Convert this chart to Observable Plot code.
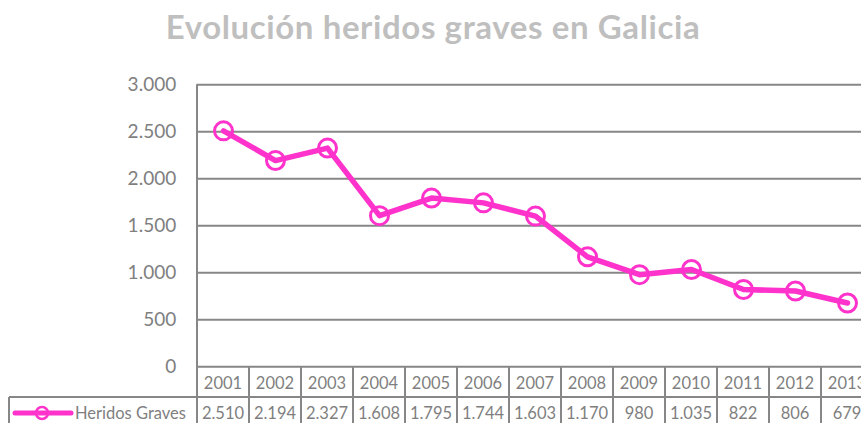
<!DOCTYPE html>
<html><head><meta charset="utf-8">
<script src="https://cdn.jsdelivr.net/npm/d3@7"></script>
<script src="https://cdn.jsdelivr.net/npm/@observablehq/plot@0.6"></script>
<style>
html,body{margin:0;padding:0;background:#fff;overflow:hidden;width:861px;height:423px}
#wrap{position:relative;width:861px;height:423px;overflow:hidden}
#title{position:absolute;left:0;top:0;width:866px;height:60px;text-align:center;font-family:Lato,"Open Sans",sans-serif;font-weight:bold;font-size:33px;line-height:33px;letter-spacing:0.6px;color:#BFBFBF;padding-top:10px;box-sizing:border-box;white-space:nowrap}
#chart{position:absolute;left:0;top:60px;width:873px}
#chart svg{max-width:none !important}
</style></head><body>
<div id="wrap">
<div id="title">Evolución heridos graves en Galicia</div>
<div id="chart"></div>
</div>
<script>
const years = ["2001","2002","2003","2004","2005","2006","2007","2008","2009","2010","2011","2012","2013"];
const heridos = [2510,2194,2327,1608,1795,1744,1603,1170,980,1035,822,806,679];
const yTicks = [0,500,1000,1500,2000,2500,3000];
const seriesName = "Heridos Graves";

const MAG = "#FF33CC";
const GRID = "#878787";
const TXT = "#7F7F7F";
const es = d3.formatLocale({decimal:",", thousands:".", grouping:[3], currency:["","€"]});
const fmt = es.format(",d");
const data = years.map((y,i)=>({year:y, value:heridos[i]}));

function table(index, scales, values, dims) {
  const x = scales.x, y = scales.y;
  const bw = x(years[1]) - x(years[0]);
  const x0 = x(years[0]);
  const xEnd = x0 + bw*years.length;
  const yTop = y(3000), yBase = y(0);
  const row1 = yBase + 30.7, bottom = dims.height + 5;
  const g = d3.create("svg:g").attr("text-anchor","start").attr("font-size",16);
  const ln = (a,b,c,d)=>g.append("line").attr("x1",a).attr("y1",b).attr("x2",c).attr("y2",d)
      .attr("stroke",GRID).attr("stroke-width",2);
  ln(x0, yTop, x0, bottom);
  for (let i=1;i<=years.length;i++) ln(x0+bw*i, yBase, x0+bw*i, bottom);
  ln(9, row1, xEnd, row1);
  ln(9, row1, 9, bottom);
  years.forEach((yr,i)=>{
    g.append("text").attr("x", x(yr)+bw/2).attr("y",(yBase+row1)/2+1).attr("text-anchor","middle")
     .attr("dominant-baseline","central").attr("fill",TXT).style("font-size","16.5px").text(yr);
    g.append("text").attr("x", x(yr)+bw/2).attr("y",row1+15.5).attr("text-anchor","middle")
     .attr("dominant-baseline","central").attr("fill",TXT).style("font-size","16.5px").text(fmt(heridos[i]));
  });
  g.append("line").attr("x1",15).attr("x2",71).attr("y1",row1+16).attr("y2",row1+16)
   .attr("stroke",MAG).attr("stroke-width",5).attr("stroke-linecap","round");
  g.append("circle").attr("cx",42).attr("cy",row1+16).attr("r",6).attr("fill","none")
   .attr("stroke",MAG).attr("stroke-width",2.5);
  g.append("text").attr("x",75).attr("y",row1+15.5).attr("text-anchor","start").attr("dominant-baseline","central")
   .attr("fill",TXT).style("font-size","16.5px").text(seriesName);
  return g.node();
}

const chart = Plot.plot({
  width: 873,
  height: 363,
  marginLeft: 196.7,
  marginRight: 0,
  marginTop: 24.3,
  marginBottom: 56.7,
  style: {fontFamily: "Lato, 'Open Sans', sans-serif", background: "#fff", overflow: "visible", maxWidth: "none"},
  x: {type: "band", domain: years, padding: 0, axis: null},
  y: {domain: [0, 3000], ticks: yTicks, tickFormat: fmt},
  marks: [
    Plot.gridY(yTicks, {stroke: GRID, strokeOpacity: 1, strokeWidth: 2}),
    Plot.axisY(yTicks, {tickSize: 0, tickPadding: 21, tickFormat: fmt, fontSize: 19, fill: TXT, label: null}),
    table,
    Plot.line(data, {x: "year", y: "value", stroke: MAG, strokeWidth: 5.5, strokeLinejoin: "round"}),
    Plot.dot(data, {x: "year", y: "value", r: 9, stroke: MAG, strokeWidth: 3, fill: "none"})
  ]
});
document.getElementById("chart").appendChild(chart);
</script>
</body></html>
